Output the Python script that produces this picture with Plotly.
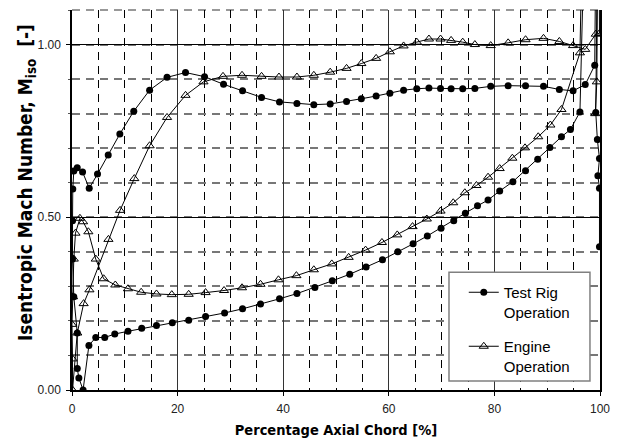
import plotly.graph_objects as go

# ---- Test Rig Operation (filled circles): trailing edge -> pressure side -> leading edge -> suction side
rig_x = [99.9, 99.9, 99.6, 99.9, 99.5, 99.2, 99.7,
         97.5, 96.2, 94.4, 92.7, 90.5, 88.2, 85.9, 83.5, 81.0, 78.8, 76.8, 74.5, 72.3, 69.9,
         67.3, 64.6, 61.7, 58.8, 55.7, 52.6, 49.3, 46.0, 42.6, 39.3, 35.7, 32.3, 28.9, 25.3,
         22.1, 19.0, 16.0, 13.2, 10.6, 8.1, 6.2, 4.5, 3.2, 2.1, 1.3, 1.0, 1.0, 0.34, 0.1, 0.1,
         0.15, 0.34, 0.99, 2.0, 3.26, 4.83, 6.86, 9.06, 11.7, 14.7, 18.0, 21.5, 25.1, 28.7,
         32.3, 35.9, 39.3, 42.6, 45.8, 48.9, 52.0, 54.8, 57.6, 60.2, 62.8, 65.3, 67.6, 69.8,
         71.8, 74.0, 76.3, 79.3, 82.6, 85.9, 89.3, 92.3, 94.9, 97.2, 99.0, 99.4]
rig_y = [0.415, 0.584, 0.620, 0.670, 0.725, 0.803, 1.600,
         1.600, 0.805, 0.754, 0.733, 0.702, 0.668, 0.635, 0.603, 0.576, 0.550, 0.533, 0.512, 0.490, 0.468,
         0.446, 0.423, 0.400, 0.377, 0.356, 0.335, 0.316, 0.297, 0.279, 0.264, 0.249, 0.235, 0.223, 0.213,
         0.202, 0.195, 0.187, 0.179, 0.170, 0.162, 0.152, 0.152, 0.129, 0.000, 0.035, 0.062, 0.165, 0.270, 0.379, 0.490,
         0.582, 0.634, 0.643, 0.631, 0.584, 0.625, 0.680, 0.741, 0.807, 0.868, 0.905, 0.919, 0.907, 0.885,
         0.866, 0.847, 0.834, 0.829, 0.826, 0.828, 0.835, 0.843, 0.851, 0.859, 0.868, 0.872, 0.874, 0.873,
         0.872, 0.872, 0.873, 0.879, 0.881, 0.881, 0.879, 0.870, 0.866, 0.884, 0.940, 1.600]

# ---- Engine Operation (open triangles)
eng_x = [99.1, 99.4, 99.7,
         97.0, 96.2, 92.7, 90.6, 88.3, 85.8, 83.4, 81.0, 78.8, 76.6, 74.4, 72.2, 69.8, 67.2, 64.5,
         61.6, 58.7, 55.6, 52.4, 49.2, 45.8, 42.5, 39.1, 35.7, 32.2, 28.8, 25.3, 22.1, 18.9, 16.0,
         13.1, 10.6, 8.2, 6.0, 4.5, 3.1, 2.1, 1.5, 0.66, 0.34, 0.2, 0.0, 0.1, 0.1,
         1.0, 2.2, 3.3, 6.9, 9.1, 11.8, 14.7, 18.0, 21.5, 24.9, 28.6, 32.2, 35.9, 39.2, 42.6, 45.8,
         48.9, 52.0, 54.8, 57.6, 60.2, 62.8, 65.3, 67.6, 69.8, 71.8, 74.0, 76.3, 79.3, 82.6, 85.9,
         89.3, 92.3, 94.9, 97.2, 99.2, 99.9, 99.8]
eng_y = [0.800, 0.892, 1.600,
         1.600, 0.976, 0.812, 0.767, 0.733, 0.701, 0.671, 0.641, 0.616, 0.592, 0.571, 0.542, 0.518, 0.495, 0.473,
         0.449, 0.427, 0.405, 0.384, 0.365, 0.348, 0.331, 0.319, 0.306, 0.296, 0.288, 0.282, 0.277, 0.276, 0.278,
         0.283, 0.293, 0.304, 0.322, 0.379, 0.458, 0.487, 0.497, 0.454, 0.379, 0.270, 0.190, 0.090, 0.000,
         0.165, 0.250, 0.290, 0.436, 0.520, 0.612, 0.707, 0.789, 0.853, 0.892, 0.908, 0.911, 0.908, 0.906, 0.906, 0.911,
         0.920, 0.931, 0.945, 0.960, 0.979, 0.996, 1.007, 1.016, 1.016, 1.012, 1.007, 1.000, 0.997, 1.005, 1.014,
         1.018, 1.009, 0.997, 0.986, 1.030, 1.032, 1.600]

x_ticks = [0, 20, 40, 60, 80, 100]
y_ticks = [0.0, 0.5, 1.0]
y_tick_text = ["0.00", "0.50", "1.00"]

FONT = "Arial, Liberation Sans, sans-serif"
TFONT = "DejaVu Sans Condensed, Arial, sans-serif"

fig = go.Figure()
fig.add_trace(go.Scatter(
    x=rig_x, y=rig_y, mode="lines+markers", name="Test Rig<br>Operation",
    line=dict(color="black", width=1),
    marker=dict(symbol="circle", size=7, color="black"),
    legendgroup="a", cliponaxis=True))
fig.add_trace(go.Scatter(
    x=eng_x, y=eng_y, mode="lines+markers", name="Engine<br>Operation",
    line=dict(color="black", width=1),
    marker=dict(symbol="triangle-up-open", size=8, color="black", line=dict(width=1)),
    legendgroup="b", cliponaxis=True))

# top dashed border line (grid at 1.10)
fig.add_shape(type="line", xref="paper", yref="paper", x0=0, x1=1, y0=1, y1=1,
              line=dict(color="#777777", width=1.5, dash="8px,6px"), layer="below")

fig.add_shape(type="rect", xref="paper", yref="paper",
              x0=0.714, x1=0.981, y0=0.024, y1=0.31,
              fillcolor="white", line=dict(color="#808080", width=1.5), layer="above")

fig.add_annotation(text="<b>Isentropic Mach Number, M<sub>iso</sub>  [-]</b>",
                   xref="paper", yref="paper", x=-0.085, y=0.545, textangle=-90,
                   xanchor="center", yanchor="middle",
                   showarrow=False, font=dict(family=TFONT, size=19, color="black"))

fig.update_layout(
    width=617, height=443,
    margin=dict(l=72, r=17, t=10, b=53, autoexpand=False),
    paper_bgcolor="white", plot_bgcolor="white",
    font=dict(family=FONT, size=12, color="black"),
    showlegend=True,
    legend=dict(x=0.742, y=0.30, xanchor="left", yanchor="top", valign="top",
                bgcolor="rgba(0,0,0,0)", borderwidth=0,
                font=dict(family=FONT, size=15, color="black"),
                tracegroupgap=12, itemwidth=30),
    xaxis=dict(range=[0, 100], tickvals=x_ticks, showline=True, linecolor="black", linewidth=1.5,
               ticks="outside", ticklen=4, tickcolor="black", ticklabelstandoff=3, automargin=False,
               showgrid=True, gridcolor="#333333", gridwidth=1, zeroline=False,
               minor=dict(dtick=5, showgrid=True, gridcolor="black", griddash="8px,6px", gridwidth=1),
               title=dict(text="<b>Percentage Axial Chord [%]</b>", font=dict(family=TFONT, size=14.5), standoff=10),
               tickfont=dict(family=FONT, size=12, color="#222")),
    yaxis=dict(range=[0, 1.1], tickvals=y_ticks, ticktext=y_tick_text, showline=True, linecolor="black",
               linewidth=1.5, mirror=True, automargin=False,
               ticks="outside", ticklen=4, tickcolor="black", ticklabelstandoff=3,
               showgrid=True, gridcolor="black", gridwidth=1, zeroline=False,
               minor=dict(dtick=0.1, showgrid=True, gridcolor="#777777", griddash="8px,6px", gridwidth=1.5,
                          ticks="outside", ticklen=2, tickcolor="#555"),
               tickfont=dict(family=FONT, size=12, color="#222")),
)

fig.write_html("out.html", config={"displayModeBar": False},
               post_script="document.body.style.margin='0px';")
